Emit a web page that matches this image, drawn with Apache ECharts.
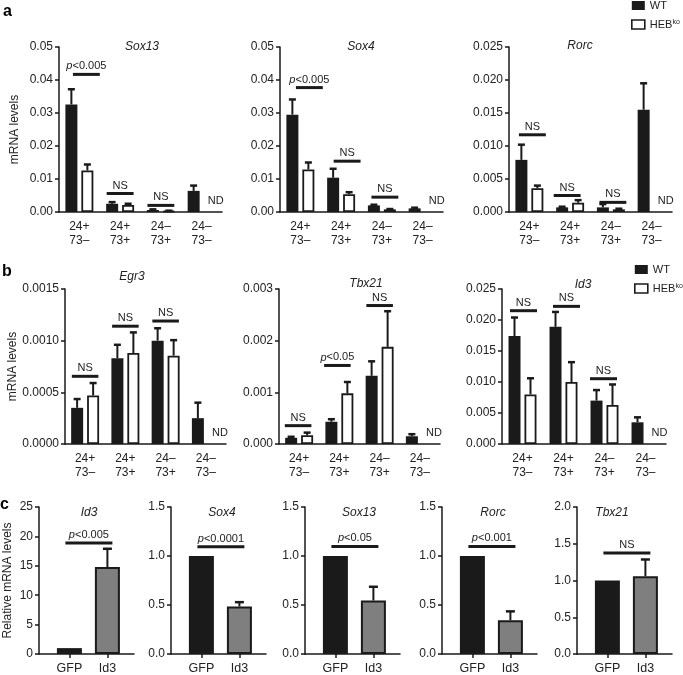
<!DOCTYPE html>
<html><head><meta charset="utf-8">
<script src="https://cdn.jsdelivr.net/npm/echarts@6/dist/echarts.min.js"></script>
<style>html,body{margin:0;padding:0;background:#fff}#c{width:683px;height:675px}</style>
</head><body><div id="c"></div>
<script>
// ---------- DATA ----------
const categories = ['24+\n73–', '24+\n73+', '24–\n73+', '24–\n73–'];
const seriesNames = ['WT', 'HEBko'];

// panel a
const sox13_WT = [0.0326, 0.0025, 0.0006, 0.0064];
const sox13_WT_err = [0.0046, 0.0005, 0.0002, 0.0016];
const sox13_HEB = [0.0126, 0.0021, 0.0003, null];
const sox13_HEB_err = [0.0018, 0.0004, 0.0001, null];
const sox13_sig = [[0, 0.0417, 'p<0.005'], [1, 0.0056, 'NS'], [2, 0.0020, 'NS']];

const sox4_WT = [0.0295, 0.0104, 0.0020, 0.0011];
const sox4_WT_err = [0.0046, 0.0027, 0.0002, 0.0002];
const sox4_HEB = [0.0129, 0.0054, 0.0008, null];
const sox4_HEB_err = [0.0021, 0.0006, 0.0001, null];
const sox4_sig = [[0, 0.0377, 'p<0.005'], [1, 0.0154, 'NS'], [2, 0.0045, 'NS']];

const rorc_WT = [0.0079, 0.0007, 0.0007, 0.0155];
const rorc_WT_err = [0.0023, 0.0001, 0.0005, 0.0040];
const rorc_HEB = [0.0036, 0.0014, 0.0004, null];
const rorc_HEB_err = [0.0004, 0.0004, 0.0001, null];
const rorc_sig = [[0, 0.0117, 'NS'], [1, 0.0025, 'NS'], [2, 0.00146, 'NS']];

// panel b
const egr3_WT = [0.00035, 0.00083, 0.00100, 0.00025];
const egr3_WT_err = [0.000085, 0.00013, 0.00012, 0.00015];
const egr3_HEB = [0.00047, 0.00088, 0.000855, null];
const egr3_HEB_err = [0.00012, 0.0002, 0.00015, null];
const egr3_sig = [[0, 0.000655, 'NS'], [1, 0.00114, 'NS'], [2, 0.00119, 'NS']];

const tbx21_WT = [0.00012, 0.00043, 0.00132, 0.00015];
const tbx21_WT_err = [0.00002, 0.00005, 0.00028, 0.00004];
const tbx21_HEB = [0.00017, 0.00098, 0.00188, null];
const tbx21_HEB_err = [0.00005, 0.00022, 0.00069, null];
const tbx21_sig = [[0, 0.000355, 'NS'], [1, 0.00152, 'p<0.05'], [2, 0.00268, 'NS']];

const id3b_WT = [0.0174, 0.0189, 0.0070, 0.0035];
const id3b_WT_err = [0.0030, 0.0024, 0.0017, 0.0008];
const id3b_HEB = [0.0080, 0.0100, 0.0063, null];
const id3b_HEB_err = [0.0026, 0.0032, 0.0033, null];
const id3b_sig = [[0, 0.0215, 'NS'], [1, 0.0222, 'NS'], [2, 0.01053, 'NS']];

// panel c
const cGenes = ['Id3', 'Sox4', 'Sox13', 'Rorc', 'Tbx21'];
const cLabels = ['GFP', 'Id3'];
const c_GFP = [1, 1, 1, 1, 1];
const c_Id3 = [14.8, 0.485, 0.546, 0.345, 1.058];
const c_Id3_err = [3.1, 0.044, 0.14, 0.09, 0.228];
const c_sigY = [18.86, 1.095, 1.098, 1.098, 1.375];
const c_sigLabel = ['p<0.005', 'p<0.0001', 'p<0.05', 'p<0.001', 'NS'];
const c_yMax = [25, 1.5, 1.5, 1.5, 2.0];
const c_yStep = [5, 0.5, 0.5, 0.5, 0.5];

// ---------- STYLE / LAYOUT ----------
const FONT = '"Liberation Sans", Arial, sans-serif';
const INK = '#1a1a1a';
const TXT = '#222';
const grid = [], xAxis = [], yAxis = [], series = [], graphic = [];

const fmtSig = s => s.charAt(0) === 'p' ? '{i|p}' + s.slice(1) : s;
const sigTextStyle = (s) => ({
  text: fmtSig(s), fill: TXT, fontSize: 11, fontFamily: FONT,
  align: 'center', verticalAlign: 'bottom',
  rich: { i: { fontStyle: 'italic', fontSize: 11, fontFamily: FONT, fill: TXT } }
});

function yAxisCfg(gi, max, step, dec, name, nameGap) {
  return {
    gridIndex: gi, type: 'value', min: 0, max: max, interval: step,
    splitLine: { show: false },
    axisLine: { show: true, onZero: false, lineStyle: { color: INK, width: 1.5 } },
    axisTick: { show: true, length: 4, lineStyle: { color: INK, width: 1.5 } },
    axisLabel: { color: TXT, fontSize: 12, fontFamily: FONT, margin: 6, formatter: v => v.toFixed(dec) },
    name: name || '', nameLocation: 'middle', nameGap: nameGap || 40,
    nameTextStyle: { color: TXT, fontSize: 12, fontFamily: FONT }
  };
}

function errSeries(gi, vals, errs, dx, cap) {
  const data = [];
  vals.forEach((v, i) => { if (v != null && errs[i] != null) data.push([i, v, errs[i]]); });
  return {
    type: 'custom', xAxisIndex: gi, yAxisIndex: gi, data: data, silent: true, z: 5,
    encode: { x: 0, y: 1 },
    renderItem(params, api) {
      const x = api.value(0), v = api.value(1), e = api.value(2);
      const p0 = api.coord([x, v]), p1 = api.coord([x, v + e]);
      const cx = p0[0] + dx;
      return { type: 'group', children: [
        { type: 'line', shape: { x1: cx, y1: p0[1], x2: cx, y2: p1[1] }, style: { stroke: INK, lineWidth: 2 } },
        { type: 'line', shape: { x1: cx - cap / 2, y1: p1[1], x2: cx + cap / 2, y2: p1[1] }, style: { stroke: INK, lineWidth: 2.5 } }
      ] };
    }
  };
}

function sigSeries(gi, sig, sigDx) {
  return {
    type: 'custom', xAxisIndex: gi, yAxisIndex: gi, data: sig.map(s => [s[0], s[1]]),
    encode: { x: 0, y: 1 }, silent: true, z: 6,
    renderItem(params, api) {
      const p = api.coord([api.value(0), api.value(1)]);
      const w = api.size([1, 0])[0] * 0.66;
      const cx = p[0] + ((sigDx && sigDx[params.dataIndex]) || 0);
      const label = sig[params.dataIndex][2];
      return { type: 'group', children: [
        { type: 'line', shape: { x1: cx - w / 2, y1: p[1], x2: cx + w / 2, y2: p[1] }, style: { stroke: INK, lineWidth: 3 } },
        { type: 'text', x: cx, y: p[1] - 2.5, style: sigTextStyle(label) }
      ] };
    }
  };
}

function ndSeries(gi, heb) {
  const data = [];
  heb.forEach((v, i) => { if (v == null) data.push([i, 0]); });
  return {
    type: 'custom', xAxisIndex: gi, yAxisIndex: gi, data: data, encode: { x: 0, y: 1 }, silent: true, z: 6,
    renderItem(params, api) {
      const p = api.coord([api.value(0), api.value(1)]);
      return { type: 'text', x: p[0] + 14, y: p[1] - 11.5,
        style: { text: 'ND', fill: TXT, fontSize: 11, fontFamily: FONT, align: 'center', verticalAlign: 'middle' } };
    }
  };
}

function addABPanel(p) {
  const gi = grid.length;
  grid.push({ left: p.left, top: p.top, width: p.width, height: p.height });
  xAxis.push({
    gridIndex: gi, type: 'category', data: categories,
    axisLine: { lineStyle: { color: INK, width: 1.5 } },
    axisTick: { alignWithLabel: true, length: 4, lineStyle: { color: INK, width: 1.5 } },
    axisLabel: { color: TXT, fontSize: 12, fontFamily: FONT, lineHeight: 14, margin: 8, interval: 0 }
  });
  yAxis.push(yAxisCfg(gi, p.max, p.step, p.dec, p.yName, p.nameGap));
  series.push({ type: 'bar', name: seriesNames[0], xAxisIndex: gi, yAxisIndex: gi, data: p.wt,
    barWidth: 12, barGap: '33%', itemStyle: { color: INK } });
  series.push({ type: 'bar', name: seriesNames[1], xAxisIndex: gi, yAxisIndex: gi, data: p.heb,
    barWidth: 12, barGap: '33%', itemStyle: { color: '#fff', borderColor: INK, borderWidth: 1.8 } });
  series.push(errSeries(gi, p.wt, p.wtErr, -8, 7));
  series.push(errSeries(gi, p.heb, p.hebErr, 8, 7));
  series.push(sigSeries(gi, p.sig, p.sigDx));
  series.push(ndSeries(gi, p.heb));
  graphic.push({ type: 'text', x: p.tx, y: p.ty, style: { text: p.title, fill: TXT, fontSize: 12, fontStyle: 'italic', fontFamily: FONT, align: 'center', verticalAlign: 'middle' } });
}

addABPanel({ title: 'Sox13', tx: 142, ty: 47, left: 59, top: 47, width: 163, height: 165, max: 0.05, step: 0.01, dec: 2, yName: 'mRNA levels', nameGap: 38,
  wt: sox13_WT, wtErr: sox13_WT_err, heb: sox13_HEB, hebErr: sox13_HEB_err, sig: sox13_sig, sigDx: [7, 0, 0] });
addABPanel({ title: 'Sox4', tx: 361, ty: 47, left: 280, top: 47, width: 163, height: 165, max: 0.05, step: 0.01, dec: 2,
  wt: sox4_WT, wtErr: sox4_WT_err, heb: sox4_HEB, hebErr: sox4_HEB_err, sig: sox4_sig, sigDx: [9, 6, 3] });
addABPanel({ title: 'Rorc', tx: 580, ty: 46, left: 509, top: 47, width: 163, height: 165, max: 0.025, step: 0.005, dec: 3,
  wt: rorc_WT, wtErr: rorc_WT_err, heb: rorc_HEB, hebErr: rorc_HEB_err, sig: rorc_sig, sigDx: [3, -3, 2] });
addABPanel({ title: 'Egr3', tx: 132, ty: 277, left: 65, top: 289, width: 161, height: 155, max: 0.0015, step: 0.0005, dec: 4, yName: 'mRNA levels', nameGap: 42,
  wt: egr3_WT, wtErr: egr3_WT_err, heb: egr3_HEB, hebErr: egr3_HEB_err, sig: egr3_sig });
addABPanel({ title: 'Tbx21', tx: 366, ty: 284, left: 279, top: 289, width: 161, height: 155, max: 0.003, step: 0.001, dec: 3,
  wt: tbx21_WT, wtErr: tbx21_WT_err, heb: tbx21_HEB, hebErr: tbx21_HEB_err, sig: tbx21_sig, sigDx: [-1, -2, 0] });
addABPanel({ title: 'Id3', tx: 583, ty: 285, left: 502, top: 289, width: 164, height: 155, max: 0.025, step: 0.005, dec: 3,
  wt: id3b_WT, wtErr: id3b_WT_err, heb: id3b_HEB, hebErr: id3b_HEB_err, sig: id3b_sig, sigDx: [1, 3, -1] });

// panel c
const cLeft = [39, 171, 305, 442, 577];
const cTitleX = [89, 222, 359, 493, 612];
cGenes.forEach((g, k) => {
  const gi = grid.length;
  grid.push({ left: cLeft[k], top: 507, width: 95, height: 149 });
  xAxis.push({
    gridIndex: gi, type: 'value', min: 0.2, max: 2.7, splitLine: { show: false },
    axisLine: { onZero: false, lineStyle: { color: INK, width: 1.5 } },
    axisTick: { customValues: [1, 2], length: 4, lineStyle: { color: INK, width: 1.5 } },
    axisLabel: { customValues: [1, 2], color: TXT, fontSize: 12.5, fontFamily: FONT, margin: 8,
      formatter: v => cLabels[Math.round(v) - 1] || '' }
  });
  yAxis.push(yAxisCfg(gi, c_yMax[k], c_yStep[k], k === 0 ? 0 : 1, k === 0 ? 'Relative mRNA levels' : '', 25));
  series.push({
    type: 'bar', name: g, xAxisIndex: gi, yAxisIndex: gi, barWidth: 25,
    data: [
      { value: [1, c_GFP[k]], itemStyle: { color: INK } },
      { value: [2, c_Id3[k]], itemStyle: { color: '#7f7f7f', borderColor: INK, borderWidth: 2 } }
    ]
  });
  series.push({
    type: 'custom', xAxisIndex: gi, yAxisIndex: gi, data: [[2, c_Id3[k], c_Id3_err[k]]], encode: { x: 0, y: 1 }, silent: true, z: 5,
    renderItem(params, api) {
      const p0 = api.coord([api.value(0), api.value(1)]);
      const p1 = api.coord([api.value(0), api.value(1) + api.value(2)]);
      return { type: 'group', children: [
        { type: 'line', shape: { x1: p0[0], y1: p0[1], x2: p0[0], y2: p1[1] }, style: { stroke: INK, lineWidth: 2 } },
        { type: 'line', shape: { x1: p0[0] - 4.5, y1: p1[1], x2: p0[0] + 4.5, y2: p1[1] }, style: { stroke: INK, lineWidth: 2.5 } }
      ] };
    }
  });
  series.push({
    type: 'custom', xAxisIndex: gi, yAxisIndex: gi, data: [[1, c_sigY[k]]], encode: { x: 0, y: 1 }, silent: true, z: 6,
    renderItem(params, api) {
      const a = api.coord([1, api.value(1)]), b = api.coord([2, api.value(1)]);
      return { type: 'group', children: [
        { type: 'line', shape: { x1: a[0] - 4, y1: a[1], x2: b[0] + 5, y2: a[1] }, style: { stroke: INK, lineWidth: 3 } },
        { type: 'text', x: (a[0] + b[0]) / 2 + 0.5, y: a[1] - 2.5, style: sigTextStyle(c_sigLabel[k]) }
      ] };
    }
  });
  graphic.push({ type: 'text', x: cTitleX[k], y: 513, style: { text: g, fill: TXT, fontSize: 12, fontStyle: 'italic', fontFamily: FONT, align: 'center', verticalAlign: 'middle' } });
});

// panel letters
[['a', 3, 4], ['b', 2, 264], ['c', 0, 497]].forEach(l => {
  graphic.push({ type: 'text', x: l[1], y: l[2], style: { text: l[0], fill: '#000', fontSize: 16, fontWeight: 'bold', fontFamily: FONT } });
});

function legendCfg(left, top) {
  return {
    left: left, top: top, orient: 'vertical', icon: 'rect', itemWidth: 13, itemHeight: 9, itemGap: 8,
    selectedMode: false, padding: 0,
    data: [
      { name: seriesNames[0], itemStyle: { color: INK } },
      { name: seriesNames[1], itemStyle: { color: '#fff', borderColor: INK, borderWidth: 1.6 } }
    ],
    formatter: n => n === 'HEBko' ? 'HEB{sup|ko}' : n,
    textStyle: { color: TXT, fontSize: 11, fontFamily: FONT,
      rich: { sup: { fontSize: 7, fontFamily: FONT, color: TXT, verticalAlign: 'top' } } }
  };
}

const chart = echarts.init(document.getElementById('c'), null, { renderer: 'canvas' });
chart.setOption({
  animation: false,
  backgroundColor: '#fff',
  grid: grid, xAxis: xAxis, yAxis: yAxis, series: series,
  legend: [legendCfg(631, 0), legendCfg(634, 264)],
  graphic: graphic
});
</script></body></html>
